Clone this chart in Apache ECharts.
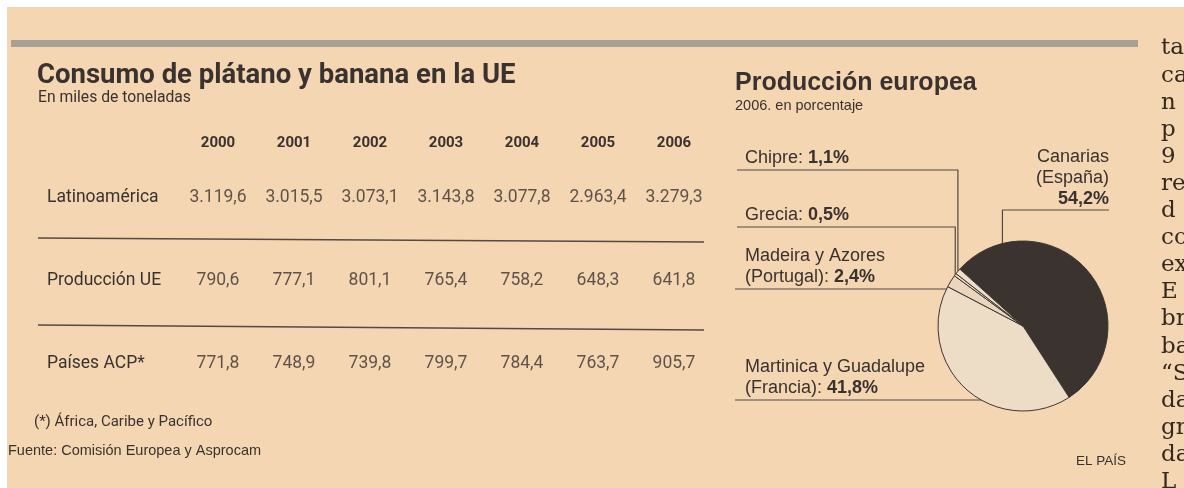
<!DOCTYPE html>
<html>
<head>
<meta charset="utf-8">
<script src="https://cdn.jsdelivr.net/npm/echarts@6/dist/echarts.min.js"></script>
<style>
  html, body { margin: 0; padding: 0; background: #fff; }
  #main { width: 1184px; height: 488px; }
</style>
</head>
<body>
<div id="main"></div>
<script>
// Consumo de plátano y banana en la UE, miles de toneladas
const years = ['2000', '2001', '2002', '2003', '2004', '2005', '2006'];
const rows = ['Latinoamérica', 'Producción UE', 'Países ACP*'];
const latinoamerica = [3119.6, 3015.5, 3073.1, 3143.8, 3077.8, 2963.4, 3279.3];
const produccionUE = [790.6, 777.1, 801.1, 765.4, 758.2, 648.3, 641.8];
const paisesACP = [771.8, 748.9, 739.8, 799.7, 784.4, 763.7, 905.7];

// Producción europea 2006, en porcentaje
const regions = ['Canarias (España)', 'Martinica y Guadalupe (Francia)', 'Madeira y Azores (Portugal)', 'Grecia', 'Chipre'];
const regionLabels = ['Canarias\n(España)\n', 'Martinica y Guadalupe\n(Francia): ', 'Madeira y Azores\n(Portugal): ', 'Grecia: ', 'Chipre: '];
const shares = [54.2, 41.8, 2.4, 0.5, 1.1];

// column of the next article, cut off by the page edge
const sideText = ['ta', 'ca', 'n', 'p', '9', 're', 'd', 'co', 'ex', 'E', 'br', 'ba', '\u201cS', 'da', 'gr', 'da', 'L'];

const ink = '#3a322e';
const rule = '#554a43';
const cond = 'Roboto, "Liberation Sans", sans-serif';
const sans = '"Liberation Sans", Arial, sans-serif';
const serif = '"DejaVu Serif", "Liberation Serif", serif';

// spanish number format: 3.119,6
function fmt(v) {
  let parts = v.toFixed(1).split('.');
  let int = parts[0].replace(/\B(?=(\d{3})+(?!\d))/g, '.');
  return int + ',' + parts[1];
}

let cells = [];
[latinoamerica, produccionUE, paisesACP].forEach((arr, r) => {
  arr.forEach((v, c) => cells.push([c, r, v]));
});

// pie geometry
const pieCenter = [1023, 326];
const pieRadius = 85;
const startAngle = 138;
let acc = startAngle;
const midAngles = shares.map(s => {
  let a = acc - s * 3.6 / 2;
  acc -= s * 3.6;
  return a;
});
function onPie(angle, k) {
  let rad = angle * Math.PI / 180;
  return [pieCenter[0] + pieRadius * k * Math.cos(rad), pieCenter[1] - pieRadius * k * Math.sin(rad)];
}
// label boxes and leader lines
const pieLabels = [
  { x: 1109, y: 147, align: 'right', lineY: 210, lineX: 1109, anchor: [104, 1] },
  { x: 745, y: 357, align: 'left', lineY: 400, lineX: 735, anchor: [258, 0.89] },
  { x: 745, y: 246, align: 'left', lineY: 289, lineX: 735 },
  { x: 745, y: 205, align: 'left', lineY: 227, lineX: 737 },
  { x: 745, y: 148, align: 'left', lineY: 170, lineX: 737 }
];

let chart = echarts.init(document.getElementById('main'), null, { renderer: 'canvas' });

let graphics = [
  { type: 'rect', z: -10, shape: { x: 7, y: 7, width: 1177, height: 481 }, style: { fill: '#f4d6b3' } },
  { type: 'rect', shape: { x: 11, y: 40, width: 1127, height: 7 }, style: { fill: '#a9a095' } },
  { type: 'line', shape: { x1: 38, y1: 238, x2: 704, y2: 242 }, style: { stroke: rule, lineWidth: 1.3 } },
  { type: 'line', shape: { x1: 38, y1: 325, x2: 704, y2: 330 }, style: { stroke: rule, lineWidth: 1.3 } },
  { type: 'text', left: 34, top: 415, style: { text: '(*) África, Caribe y Pacífico', fill: ink, font: '15px ' + cond } },
  { type: 'text', left: 8, top: 443, style: { text: 'Fuente: Comisión Europea y Asprocam', fill: ink, font: '14.5px ' + sans } },
  { type: 'text', left: 1076, top: 454, style: { text: 'EL PAÍS', fill: ink, font: '13.5px ' + sans } }
];
sideText.forEach((t, i) => {
  graphics.push({ type: 'text', left: 1161, top: 37 + i * 27.1, style: { text: t, fill: '#34291f', font: '23px ' + serif } });
});

let option = {
  backgroundColor: '#ffffff',
  animation: false,
  title: [
    {
      left: 37, top: 62, padding: 0,
      text: 'Consumo de plátano y banana en la UE',
      textStyle: { color: ink, fontSize: 27.5, fontWeight: 'bold', fontFamily: cond }
    },
    {
      left: 38, top: 90, padding: 0,
      text: 'En miles de toneladas',
      textStyle: { color: ink, fontSize: 15.7, fontWeight: 'normal', fontFamily: cond }
    },
    {
      left: 735, top: 71, padding: 0, itemGap: 2,
      text: 'Producción europea',
      textStyle: { color: ink, fontSize: 25, fontWeight: 'bold', fontFamily: sans },
      subtext: '2006. en porcentaje',
      subtextStyle: { color: ink, fontSize: 14.5, fontFamily: sans }
    }
  ],
  graphic: graphics,
  grid: { left: 180, top: 156, width: 532, height: 249 },
  xAxis: {
    type: 'category', data: years, position: 'top',
    axisLine: { show: false }, axisTick: { show: false }, splitLine: { show: false },
    axisLabel: { margin: 5, color: ink, fontSize: 15, fontWeight: 'bold', fontFamily: cond }
  },
  yAxis: {
    type: 'category', data: rows, inverse: true,
    axisLine: { show: false }, axisTick: { show: false }, splitLine: { show: false },
    axisLabel: { align: 'left', margin: 133, color: ink, fontSize: 17.5, fontFamily: cond }
  },
  series: [
    {
      type: 'scatter',
      data: cells,
      symbolSize: 1,
      itemStyle: { color: 'rgba(0,0,0,0)' },
      label: {
        show: true, position: 'inside',
        color: ink, fontSize: 17.5, fontFamily: cond,
        formatter: p => fmt(p.value[2])
      }
    },
    {
      type: 'pie',
      center: pieCenter,
      radius: pieRadius,
      startAngle: startAngle,
      clockwise: true,
      avoidLabelOverlap: false,
      data: regions.map((n, i) => ({ name: n, value: shares[i] })),
      color: ['#3b3330', '#eddcc6', '#ead5bd', '#efdfca', '#efdfca'],
      itemStyle: { borderColor: '#3e3531', borderWidth: 1 },
      label: {
        show: true, position: 'outside',
        color: ink, fontSize: 18, lineHeight: 21, fontFamily: sans,
        formatter: p => regionLabels[p.dataIndex] + '{b|' + fmt(p.value) + '%}',
        rich: { b: { fontWeight: 'bold', fontSize: 18, lineHeight: 21, color: ink, fontFamily: sans } }
      },
      labelLine: { show: true, length: 5, length2: 5, lineStyle: { color: rule, width: 1.2 } },
      labelLayout: function (params) {
        let cfg = pieLabels[params.dataIndex];
        let p0 = cfg.anchor ? onPie(cfg.anchor[0], cfg.anchor[1]) : onPie(midAngles[params.dataIndex], 1);
        return {
          x: cfg.x, y: cfg.y, align: cfg.align, verticalAlign: 'top',
          labelLinePoints: [p0, [p0[0], cfg.lineY], [cfg.lineX, cfg.lineY]]
        };
      },
      emphasis: { disabled: true }
    }
  ]
};
chart.setOption(option);
</script>
</body>
</html>
